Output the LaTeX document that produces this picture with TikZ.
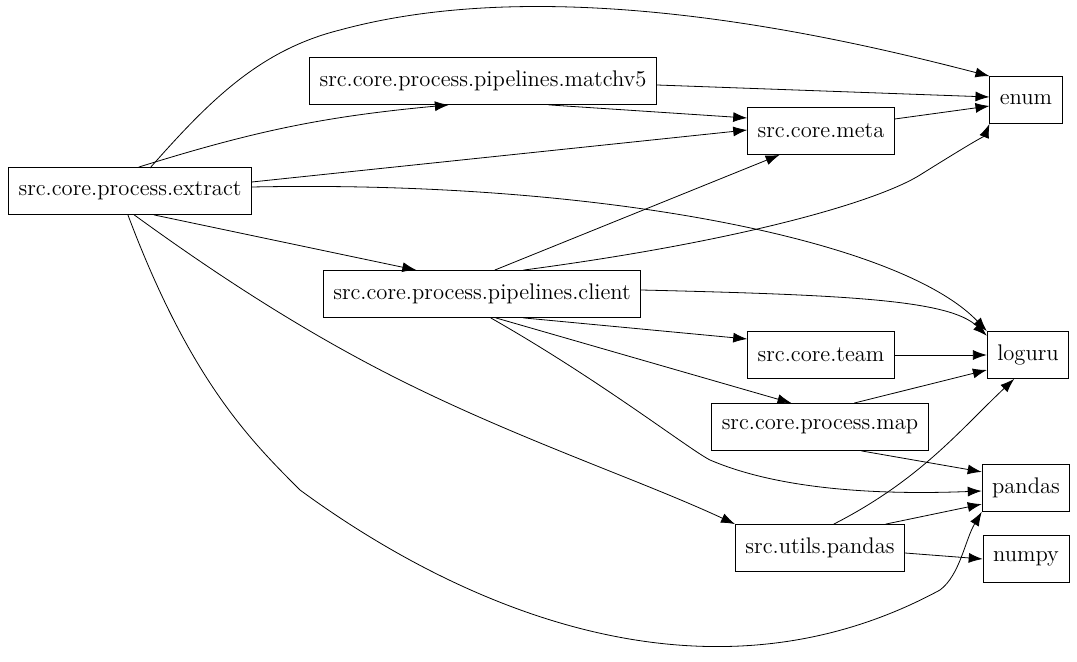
\documentclass[tikz,border=0pt]{standalone}
\usetikzlibrary{arrows.meta}
\tikzset{
  mod/.style={draw,rectangle,inner xsep=5pt,minimum height=23.5pt,font=\fontsize{11.3}{13}\selectfont},
  dep/.style={-{Latex[length=7pt,width=5pt]}}
}
\begin{document}
\begin{tikzpicture}[x=0.5pt,y=-0.5pt,thin]
  \useasboundingbox (0,0) rectangle (1077,662);
  % Modules
  \node[mod] (extract) at (130,191) {src.core.process.extract};
  \node[mod] (matchv) at (483,81) {src.core.process.pipelines.matchv5};
  \node[mod] (meta) at (821,131) {src.core.meta};
  \node[mod] (enum) at (1026,100) {enum};
  \node[mod] (client) at (482,294) {src.core.process.pipelines.client};
  \node[mod] (team) at (821,355) {src.core.team};
  \node[mod] (loguru) at (1028,355) {loguru};
  \node[mod] (map) at (820,427) {src.core.process.map};
  \node[mod] (pandas) at (1026,488) {pandas};
  \node[mod] (upandas) at (820,548) {src.utils.pandas};
  \node[mod] (numpy) at (1026,559) {numpy};

  % Imports of extract
  \draw[dep] (extract.north |- 0,168) ++(20,0) .. controls (210,100) and (260,50) .. (340,30)
    .. controls (560,-30) and (850,40) .. (enum.north west);
  \draw[dep] (extract.70) to[bend left=6] (matchv.215);
  \draw[dep] (extract.east |- 0,182) -- (meta.west |- 0,130);
  \draw[dep] (extract.east |- 0,187) .. controls (600,180) and (900,240) .. (loguru.north west);
  \draw[dep] (extract.-45) -- (client.160);
  \draw[dep] (extract.-80) .. controls (210,270) and (300,330) .. (400,380)
    .. controls (520,440) and (640,480) .. (upandas.north west);
  \draw[dep] (extract.-95) .. controls (190,380) and (250,440) .. (300,490)
    .. controls (450,600) and (700,720) .. (940,590)
    .. controls (960,575) and (965,540) .. (pandas.south west);

  % Imports of matchv5
  \draw[dep] (matchv.east |- 0,85) -- (enum.west |- 0,97);
  \draw[dep] (matchv.-20) -- (meta.west |- 0,118);

  % Imports of meta
  \draw[dep] (meta.east |- 0,119) -- (enum.west |- 0,106);

  % Imports of client
  \draw[dep] (client.62) -- (meta.-150);
  \draw[dep] (client.30) .. controls (750,240) and (880,200) .. (920,175)
    .. controls (960,150) and (985,135) .. (enum.south west);
  \draw[dep] (client.east |- 0,290) .. controls (850,295) and (950,300) .. (loguru.155);
  \draw[dep] (client.-30) -- (team.west |- 0,339);
  \draw[dep] (client.-60) -- (map.140);
  \draw[dep] (client.-70) .. controls (600,380) and (690,450) .. (710,460)
    .. controls (780,490) and (880,495) .. (pandas.west |- 0,491);

  % Remaining imports
  \draw[dep] (team) -- (loguru);
  \draw[dep] (map.35) -- (loguru.-160);
  \draw[dep] (map.-30) -- (pandas.160);
  \draw[dep] (upandas.60) .. controls (920,480) and (960,430) .. (loguru.-120);
  \draw[dep] (upandas.20) -- (pandas.-160);
  \draw[dep] (upandas.east |- 0,553) -- (numpy.west |- 0,559);
\end{tikzpicture}
\end{document}
